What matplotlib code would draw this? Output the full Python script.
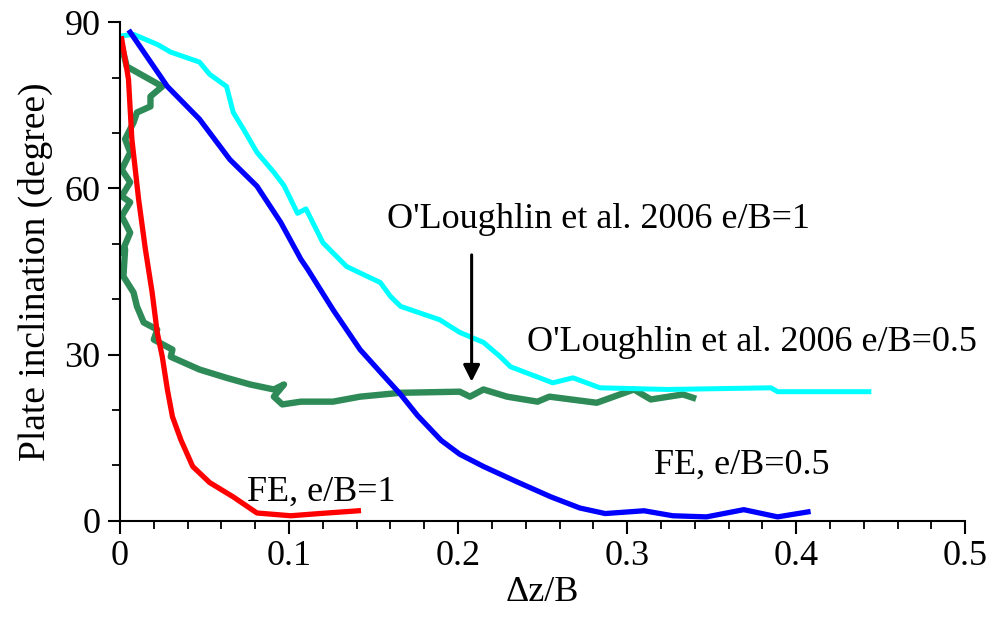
import matplotlib
matplotlib.use("Agg")
import matplotlib.pyplot as plt
from matplotlib.ticker import MultipleLocator

plt.rcParams['font.family'] = ['Liberation Serif', 'DejaVu Serif']

# FE, e/B=1 (red)
fe1_x = [0.001, 0.005, 0.007, 0.011, 0.015, 0.019, 0.022, 0.025, 0.028, 0.031,
         0.036, 0.043, 0.053, 0.067, 0.081, 0.101, 0.118, 0.141]
fe1_y = [87.0, 79.7, 68.9, 58.0, 49.0, 41.2, 34.0, 29.6, 23.7, 18.8,
         14.6, 9.8, 6.9, 4.3, 1.4, 0.9, 1.3, 1.8]

# FE, e/B=0.5 (blue)
fe05_x = [0.006, 0.028, 0.047, 0.065, 0.081, 0.095, 0.107, 0.111, 0.126, 0.142,
          0.155, 0.166, 0.176, 0.190, 0.201, 0.215, 0.235, 0.255, 0.272, 0.287,
          0.310, 0.327, 0.347, 0.369, 0.389, 0.407]
fe05_y = [88.2, 78.4, 72.5, 65.2, 60.4, 53.9, 47.2, 45.4, 38.1, 30.9,
          26.5, 22.8, 19.0, 14.5, 12.0, 9.8, 7.0, 4.3, 2.3, 1.3,
          1.8, 0.9, 0.7, 2.0, 0.7, 1.6]

# O'Loughlin et al. 2006 e/B=0.5 (cyan)
ol05_x = [0.000, 0.008, 0.022, 0.030, 0.047, 0.053, 0.063, 0.067, 0.073, 0.081,
          0.091, 0.097, 0.105, 0.110, 0.120, 0.134, 0.154, 0.160, 0.166, 0.189,
          0.201, 0.215, 0.225, 0.231, 0.256, 0.268, 0.284, 0.324, 0.385, 0.389,
          0.414, 0.443]
ol05_y = [87.5, 87.8, 86.0, 84.6, 82.8, 80.6, 78.4, 73.7, 70.7, 66.5,
          62.9, 60.5, 55.5, 56.3, 50.2, 45.9, 43.0, 40.5, 38.7, 36.3,
          34.0, 32.2, 29.6, 27.8, 24.9, 25.8, 24.0, 23.7, 24.0, 23.3,
          23.3, 23.3]

# O'Loughlin et al. 2006 e/B=1 (green)
ol1_x = [0.001, 0.004, 0.025, 0.018, 0.018, 0.010, 0.008, 0.003, 0.006, 0.001,
         0.006, 0.001, 0.006, 0.001, 0.006, 0.001, 0.003, 0.002, 0.008, 0.010,
         0.014, 0.022, 0.020, 0.031, 0.030, 0.047, 0.063, 0.077, 0.091, 0.097,
         0.091, 0.096, 0.107, 0.126, 0.142, 0.166, 0.201, 0.207, 0.215, 0.229,
         0.247, 0.254, 0.282, 0.304, 0.314, 0.333, 0.339]
ol1_y = [85.7, 82.0, 78.4, 76.6, 74.8, 73.7, 71.9, 68.9, 66.5, 63.4,
         61.1, 58.6, 57.5, 55.0, 52.0, 48.4, 49.0, 44.1, 41.2, 38.7,
         35.8, 34.5, 32.7, 30.9, 29.6, 27.3, 25.8, 24.6, 23.7, 24.6,
         22.4, 21.0, 21.5, 21.5, 22.4, 23.1, 23.3, 22.4, 23.7, 22.4,
         21.5, 22.4, 21.3, 23.7, 21.9, 22.8, 22.2]

fig = plt.figure(figsize=(9.92, 6.17), dpi=100)
ax = fig.add_axes([0.121, 0.156, 0.852, 0.808])

ax.plot(ol1_x, ol1_y, color='#2e8b57', lw=4.6, solid_joinstyle='round')
ax.plot(ol05_x, ol05_y, color='#00ffff', lw=3.6)
ax.plot(fe05_x, fe05_y, color='#0000ff', lw=3.8)
ax.plot(fe1_x, fe1_y, color='#ff0000', lw=3.8)

ax.set_xlim(0, 0.5)
ax.set_ylim(0, 90)
ax.xaxis.set_major_locator(MultipleLocator(0.1))
ax.xaxis.set_minor_locator(MultipleLocator(0.02))
ax.yaxis.set_major_locator(MultipleLocator(30))
ax.yaxis.set_minor_locator(MultipleLocator(10))
ax.xaxis.set_major_formatter(plt.FuncFormatter(lambda v, p: '0' if v == 0 else f'{v:g}'))

for s in ['top', 'right']:
    ax.spines[s].set_visible(False)
for s in ['left', 'bottom']:
    ax.spines[s].set_linewidth(1.5)
ax.tick_params(which='major', direction='out', length=9, width=1.5, labelsize=26, pad=5)
ax.tick_params(which='minor', direction='out', length=6, width=1.3)

ax.set_xlabel('Δz/B', fontsize=26, labelpad=2)
ax.set_ylabel('Plate inclination (degree)', fontsize=27, labelpad=8)

ax.text(0.283, 54.4, "O'Loughlin et al. 2006 e/B=1", fontsize=26, ha='center', va='center')
ax.text(0.374, 32.2, "O'Loughlin et al. 2006 e/B=0.5", fontsize=26, ha='center', va='center')
ax.text(0.368, 10.1, 'FE, e/B=0.5', fontsize=26, ha='center', va='center')
ax.text(0.119, 5.2, 'FE, e/B=1', fontsize=26, ha='center', va='center')

ax.annotate('', xy=(0.208, 24.6), xytext=(0.208, 48.5),
            arrowprops=dict(arrowstyle='-|>', color='black', lw=2.2, mutation_scale=25))

fig.savefig('out.png', dpi=100)
